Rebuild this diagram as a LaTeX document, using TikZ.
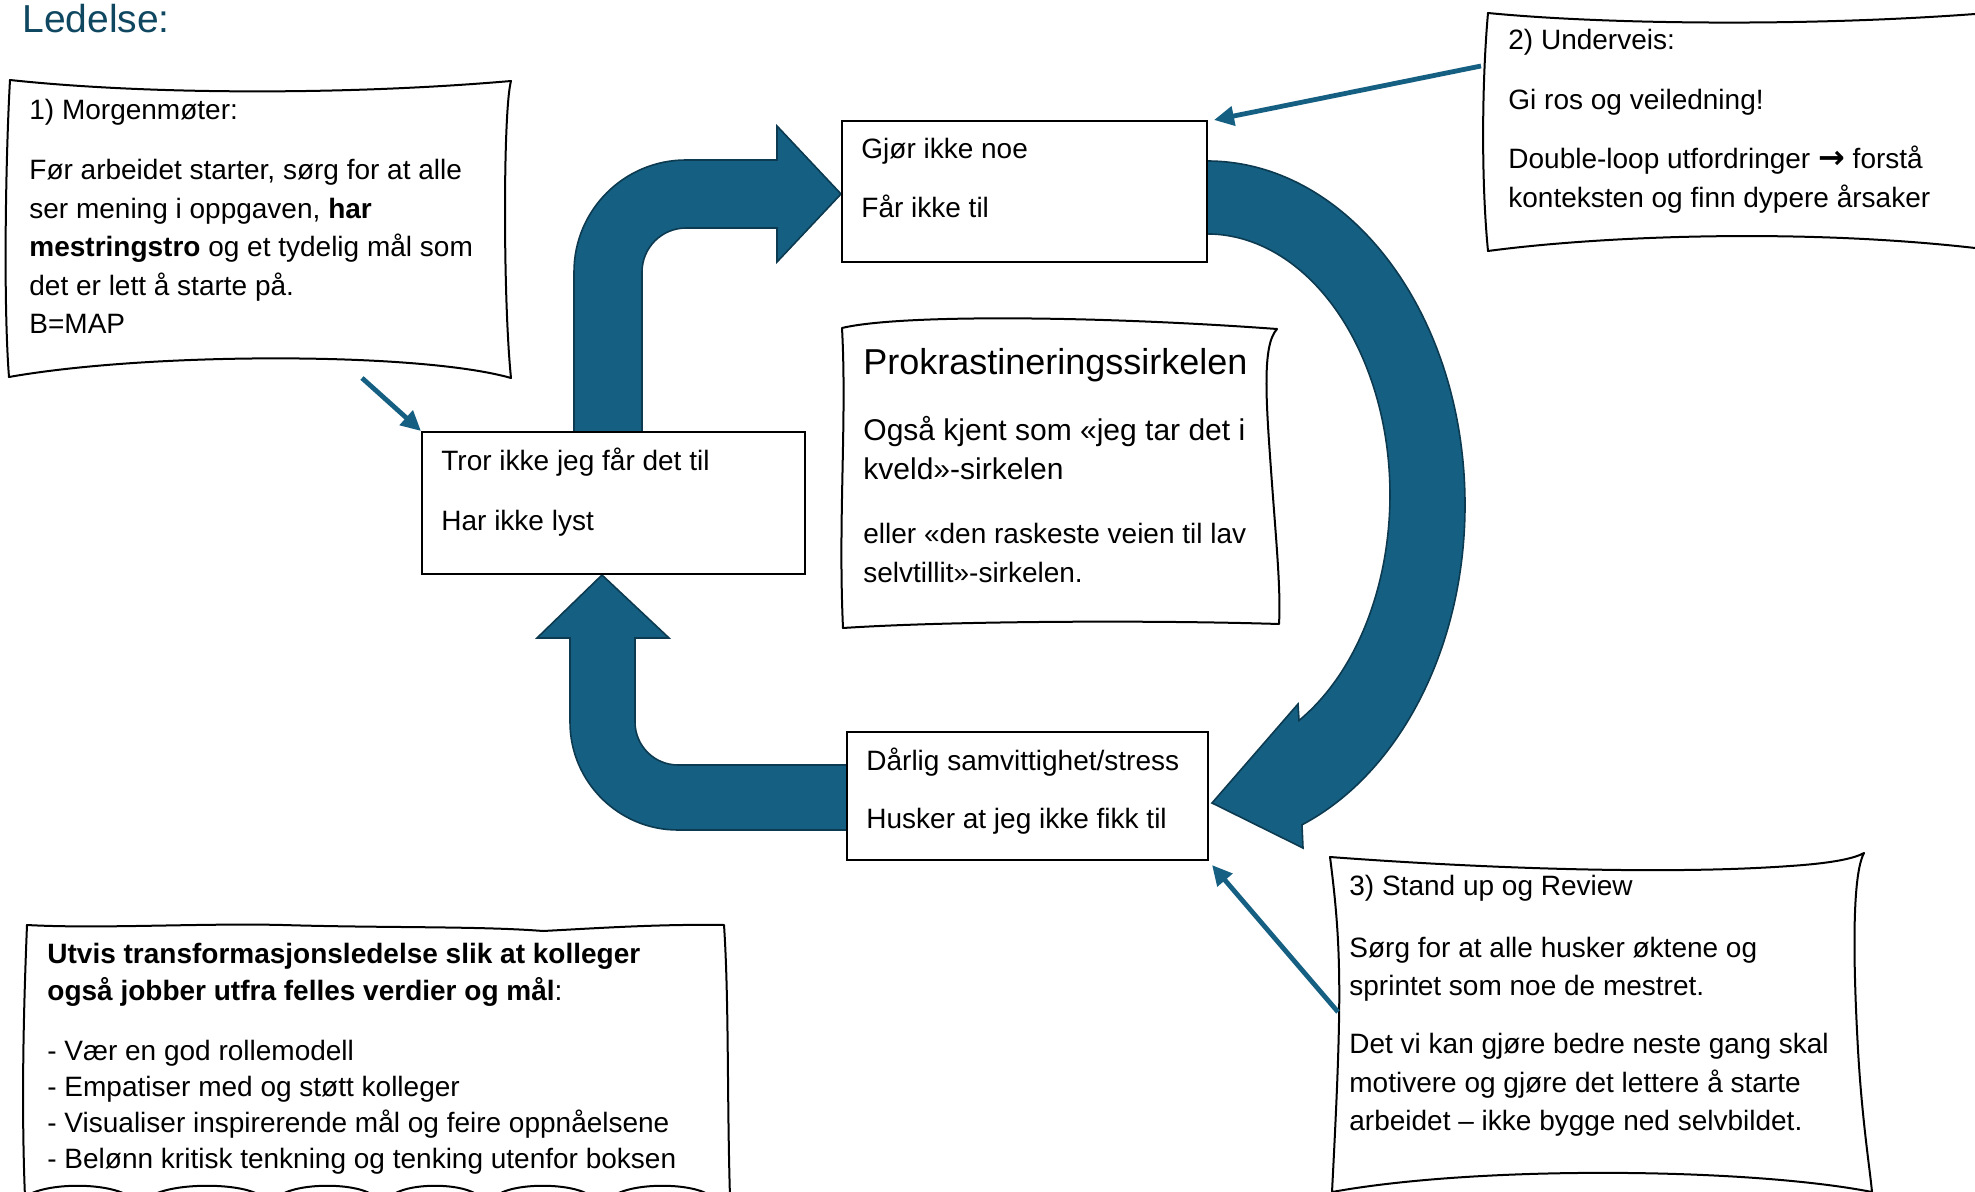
\documentclass[tikz,border=0pt]{standalone}
\usepackage{fontspec}
\setmainfont{Liberation Sans}
\newfontfamily\arrowfont{DejaVu Sans}
\usetikzlibrary{arrows.meta,calc}
\definecolor{acc}{HTML}{156082}
\definecolor{accdark}{HTML}{0C3A50}
\definecolor{titlecol}{HTML}{0F4761}
\tikzset{
  bigarrow/.style={fill=acc, draw=accdark, line width=0.8pt, line join=miter},
  stepbox/.style={draw=black, line width=1pt, fill=white, inner sep=0pt, rectangle},
  paper/.style={draw=black, line width=1pt, fill=white, line join=round},
  pointer/.style={draw=acc, line width=2.4pt, -{Triangle[length=10pt,width=9.5pt]}},
  txt/.style={anchor=base west, inner sep=0pt},
}
\begin{document}
\begin{tikzpicture}[x=0.5pt,y=-0.5pt]
\useasboundingbox (0,0) rectangle (1975,1192);
\fill[white] (0,0) rectangle (1975,1192);

% title
\node[txt, text=titlecol, font=\fontsize{19.5}{23}\selectfont] (title) at (22,33) {Ledelse:};

% big arrows
\draw[bigarrow] (574,432) -- (574,272) arc[start angle=180, end angle=270, radius=112]
  -- (777,160) -- (777,126) -- (841,194) -- (777,262) -- (777,228) -- (686,228)
  arc[start angle=270, end angle=180, radius=44] -- (642,432) -- cycle;
\draw[bigarrow] (847,765) -- (678,765) arc[start angle=90, end angle=180, radius=43]
  -- (635,638) -- (669,638) -- (602,575) -- (537,638) -- (570,638) -- (570,722)
  arc[start angle=180, end angle=90, radius=108] -- (847,830) -- cycle;
\draw[bigarrow] (1207,161) arc[start angle=-90, end angle=68.4, x radius=258, y radius=344]
  -- (1303,848) -- (1212,803) -- (1298,704) -- (1299,720.5)
  arc[start angle=59.8, end angle=-90, x radius=183, y radius=261] -- cycle;

% rectangles
\node[stepbox, minimum width=182.5pt, minimum height=70.5pt] (gjor) at (1024.5,191.5) {};
\node[stepbox, minimum width=191.5pt, minimum height=71pt] (tror) at (613.5,503) {};
\node[stepbox, minimum width=180.5pt, minimum height=64pt] (darlig) at (1027.5,796) {};

\node[txt] (gjortxt) at (861,159) {\begin{minipage}[t]{170pt}\raggedright\fontsize{14}{29.5}\selectfont Gjør ikke noe\\ Får ikke til\end{minipage}};
\node[txt] (trortxt) at (441,471) {\begin{minipage}[t]{180pt}\raggedright\fontsize{14}{29.5}\selectfont Tror ikke jeg får det til\\ Har ikke lyst\end{minipage}};
\node[txt] (darligtxt) at (866,770) {\begin{minipage}[t]{175pt}\raggedright\fontsize{14}{29}\selectfont Dårlig samvittighet/stress\\ Husker at jeg ikke fikk til\end{minipage}};

% paper box 1
\draw[paper] (10,80) .. controls (150,95) and (350,95) .. (511,81)
  .. controls (503,110) and (503,300) .. (511,378)
  .. controls (420,352) and (150,352) .. (9,377)
  .. controls (3,300) and (6,150) .. (10,80) -- cycle;
\node[txt] (box1txt) at (29,120) {\begin{minipage}[t]{300pt}\raggedright\fontsize{14}{19.25}\selectfont
1) Morgenmøter:\\[10.75pt]
Før arbeidet starter, sørg for at alle\\
ser mening i oppgaven, \textbf{har}\\
\textbf{mestringstro} og et tydelig mål som\\
det er lett å starte på.\\
B=MAP\end{minipage}};

% paper box 2
\draw[paper] (1488,13) .. controls (1600,24) and (1800,27) .. (1975,14) -- (1995,14) -- (1995,250) -- (1975,248)
  .. controls (1800,228) and (1600,236) .. (1488,251)
  .. controls (1481,180) and (1482,80) .. (1488,13) -- cycle;
\node[txt] (box2txt) at (1508,50) {\begin{minipage}[t]{260pt}\raggedright\fontsize{14}{19.5}\selectfont
2) Underveis:\\[10.5pt]
Gi ros og veiledning!\\[10pt]
Double-loop utfordringer {\arrowfont\bfseries\fontsize{16}{19.5}\selectfont →} forstå\\
konteksten og finn dypere årsaker\end{minipage}};

% prokrastinering box
\draw[paper] (842,328) .. controls (900,314) and (1100,316) .. (1277,329)
  .. controls (1262,345) and (1266,400) .. (1271,470)
  .. controls (1276,540) and (1281,590) .. (1279,624)
  .. controls (1150,620) and (950,621) .. (843,628)
  .. controls (838,520) and (847,420) .. (842,328) -- cycle;
\node[txt] (pk1) at (863,375) {\fontsize{18}{22}\selectfont Prokrastineringssirkelen};
\node[txt] (pk2) at (863,440) {\begin{minipage}[t]{220pt}\raggedright\fontsize{15}{20}\selectfont Også kjent som «jeg tar det i\\ kveld»-sirkelen\end{minipage}};
\node[txt] (pk3) at (863,543) {\begin{minipage}[t]{220pt}\raggedright\fontsize{14}{19.5}\selectfont eller «den raskeste veien til lav\\ selvtillit»-sirkelen.\end{minipage}};

% paper box 3
\draw[paper] (1330,857) .. controls (1450,866) and (1650,876) .. (1790,866)
  .. controls (1835,863) and (1855,858) .. (1864,853)
  .. controls (1852,875) and (1853,960) .. (1858,1050)
  .. controls (1862,1120) and (1870,1170) .. (1872,1192)
  .. controls (1750,1168) and (1480,1165) .. (1332,1192)
  .. controls (1342,1000) and (1342,950) .. (1330,857) -- cycle;
\node[txt] (box3txt) at (1349,895) {\begin{minipage}[t]{270pt}\raggedright\fontsize{14}{19.25}\selectfont
3) Stand up og Review\\[11.75pt]
Sørg for at alle husker øktene og\\
sprintet som noe de mestret.\\[9.75pt]
Det vi kan gjøre bedre neste gang skal\\
motivere og gjøre det lettere å starte\\
arbeidet – ikke bygge ned selvbildet.\end{minipage}};

% bottom-left paper box
\draw[paper] (27,925) .. controls (100,929) and (200,923) .. (283,925)
  .. controls (380,928) and (480,926) .. (543,931)
  .. controls (600,928) and (660,924) .. (724,925)
  .. controls (729,1000) and (727,1100) .. (730,1197)
  -- (712,1197) .. controls (695,1182) and (630,1182) .. (612,1197)
  -- (592,1197) .. controls (575,1182) and (510,1182) .. (495,1197)
  -- (480,1197) .. controls (465,1182) and (405,1182) .. (390,1197)
  -- (375,1197) .. controls (360,1182) and (295,1182) .. (278,1197)
  -- (262,1197) .. controls (245,1182) and (170,1182) .. (150,1197)
  -- (130,1197) .. controls (110,1182) and (45,1182) .. (25,1197)
  .. controls (21,1100) and (24,1000) .. (27,925) -- cycle;
\node[txt] (box4txt) at (47,963) {\begin{minipage}[t]{360pt}\raggedright\fontsize{14}{18}\selectfont
\textbf{Utvis transformasjonsledelse slik at kolleger}\\[0.5pt]
\textbf{også jobber utfra felles verdier og mål}:\\[12pt]
- Vær en god rollemodell\\
- Empatiser med og støtt kolleger\\
- Visualiser inspirerende mål og feire oppnåelsene\\
- Belønn kritisk tenkning og tenking utenfor boksen\end{minipage}};

% pointers
\coordinate (p1) at (362,378);
\coordinate (p2) at (1481,66);
\coordinate (p3) at (1338,1012);
\draw[pointer] (p1) -- (tror.north west);
\draw[pointer] (p2) -- ([xshift=3pt]gjor.north east);
\draw[pointer] (p3) -- ([xshift=1.5pt,yshift=-2pt]darlig.south east);
\end{tikzpicture}
\end{document}
